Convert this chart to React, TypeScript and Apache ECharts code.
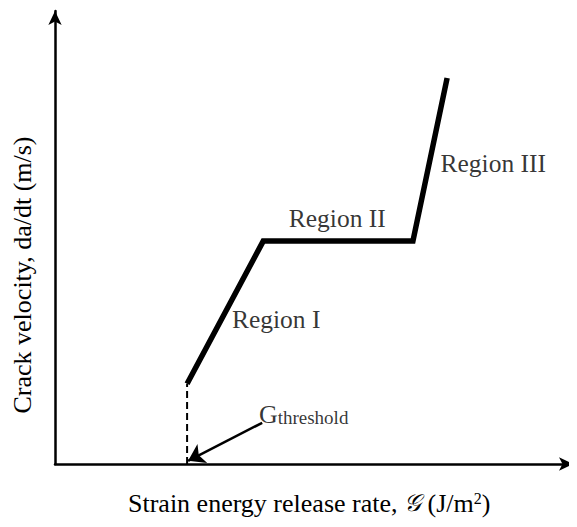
import React, { useEffect, useRef } from "react";
import * as echarts from "echarts";

// Schematic curve (arbitrary units, 0..100)
const curveX = [25.5, 40.2, 69.1, 75.7];
const curveY = [17.7, 49.2, 49.2, 85.2];
const thresholdX = 25.5;
const thresholdTopY = 17.7;
// annotation arrow (tail -> tip)
const arrowFrom = [40.0, 9.1];
const arrowTo = [25.7, 0.7];
// region labels
const labelNames = ["Region I", "Region II", "Region III"];
const labelX = [42.7, 54.5, 84.6];
const labelY = [32.0, 54.1, 66.4];
const thresholdLabelPos = [48.0, 11.4];

const FONT = "'Liberation Serif', 'Times New Roman', serif";

export default function App() {
  const ref = useRef<HTMLDivElement>(null);
  useEffect(() => {
    if (!ref.current) return;
    const chart = echarts.init(ref.current, undefined, { renderer: "svg" });
    const axisCommon = {
      type: "value" as const,
      min: 0,
      max: 100,
      axisTick: { show: false },
      axisLabel: { show: false },
      splitLine: { show: false },
      axisLine: {
        show: true,
        symbol: ["none", "arrow"],
        symbolSize: [10, 14],
        lineStyle: { color: "#000", width: 2.5 },
      },
    };
    chart.setOption({
      animation: false,
      backgroundColor: "#fff",
      grid: { left: 55, right: 4, top: 11, bottom: 63 },
      xAxis: { ...axisCommon },
      yAxis: { ...axisCommon },
      series: [
        {
          type: "line",
          data: curveX.map((x, i) => [x, curveY[i]]),
          symbol: "none",
          lineStyle: { color: "#000", width: 5.5, join: "miter" },
        },
        {
          type: "line",
          data: [
            [thresholdX, 0],
            [thresholdX, thresholdTopY],
          ],
          symbol: "none",
          lineStyle: { color: "#000", width: 2, type: [7, 4] },
        },
        {
          type: "lines",
          coordinateSystem: "cartesian2d",
          symbol: ["none", "arrow"],
          symbolSize: 16,
          lineStyle: { color: "#000", width: 2.5, opacity: 1 },
          data: [{ coords: [arrowFrom, arrowTo] }],
        },
        {
          type: "scatter",
          symbolSize: 0,
          data: labelNames.map((n, i) => [labelX[i], labelY[i], n]),
          label: {
            show: true,
            position: "inside",
            formatter: (p: any) => p.data[2],
            color: "#000",
            fontFamily: FONT,
            fontSize: 25.5,
          },
        },
        {
          type: "scatter",
          symbolSize: 0,
          data: [[thresholdLabelPos[0], thresholdLabelPos[1]]],
          label: {
            show: true,
            position: "inside",
            formatter: "{g|G}{s|threshold}",
            color: "#000",
            rich: {
              g: { fontFamily: FONT, fontSize: 26, color: "#000", lineHeight: 30, verticalAlign: "bottom" },
              s: { fontFamily: FONT, fontSize: 19, color: "#000", lineHeight: 30, verticalAlign: "bottom" },
            },
          },
        },
      ],
      graphic: [
        {
          type: "text",
          x: 128,
          y: 503,
          style: {
            text: "{a|Strain energy release rate, }{g|𝒢}{a| (J/m}{p|2}{a|)}",
            verticalAlign: "middle",
            fill: "#000",
            rich: {
              a: { fontFamily: FONT, fontSize: 26, fill: "#000" },
              g: { fontFamily: FONT, fontSize: 24, fontStyle: "italic", fill: "#000" },
              p: { fontFamily: FONT, fontSize: 16, verticalAlign: "top", fill: "#000" },
            },
          },
        },
        {
          type: "text",
          x: 22,
          y: 275,
          rotation: Math.PI / 2,
          style: {
            text: "Crack velocity, da/dt (m/s)",
            fontFamily: FONT,
            fontSize: 26,
            align: "center",
            verticalAlign: "middle",
            fill: "#000",
          },
        },
      ],
    });
    return () => chart.dispose();
  }, []);
  return <div ref={ref} style={{ width: 577, height: 527, margin: -8 }} />;
}
